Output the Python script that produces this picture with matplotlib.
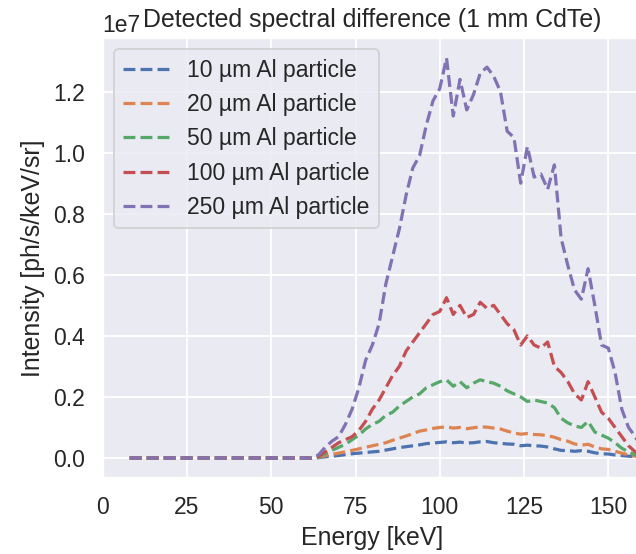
import numpy as np
import matplotlib
matplotlib.use("Agg")
import matplotlib.pyplot as plt
import seaborn as sns

# energy grid [keV] and spectra in units of 1e7 ph/s/keV/sr
energy = [8, 10, 12, 14, 16, 18, 20, 22, 24, 26, 28, 30, 32, 34, 36, 38, 40,
          42, 44, 46, 48, 50, 52, 54, 56, 58, 60, 62,
          64, 66, 68, 70, 72, 74, 76, 78, 80, 82, 84, 86, 88, 90, 92, 94, 96,
          98, 100, 102, 104, 106, 108, 110, 112, 114, 116, 118, 120, 122, 124,
          126, 128, 130, 132, 134, 136, 138, 140, 142, 144, 146, 148, 150, 152,
          154, 156, 158, 160]

flat = [0.0] * 28

al_10 = flat + [0.001, 0.004, 0.006, 0.008, 0.011, 0.014, 0.016, 0.018, 0.020,
                0.022, 0.026, 0.030, 0.034, 0.037, 0.040, 0.043, 0.047, 0.049,
                0.051, 0.053, 0.050, 0.052, 0.049, 0.050, 0.053, 0.054, 0.050,
                0.048, 0.046, 0.045, 0.040, 0.042, 0.040, 0.039, 0.036, 0.030,
                0.025, 0.024, 0.022, 0.024, 0.022, 0.017, 0.014, 0.013, 0.010,
                0.008, 0.006, 0.004, 0.002]

al_20 = flat + [0.002, 0.008, 0.012, 0.016, 0.020, 0.025, 0.030, 0.035, 0.040,
                0.045, 0.050, 0.058, 0.065, 0.072, 0.080, 0.088, 0.092, 0.097,
                0.100, 0.102, 0.098, 0.100, 0.096, 0.099, 0.102, 0.101, 0.098,
                0.095, 0.088, 0.082, 0.078, 0.080, 0.077, 0.076, 0.073, 0.068,
                0.060, 0.055, 0.046, 0.042, 0.045, 0.036, 0.030, 0.028, 0.022,
                0.016, 0.010, 0.006, 0.003]

al_50 = flat + [0.003, 0.015, 0.025, 0.035, 0.045, 0.060, 0.075, 0.095, 0.110,
                0.120, 0.140, 0.150, 0.170, 0.185, 0.200, 0.210, 0.230, 0.240,
                0.250, 0.256, 0.235, 0.250, 0.230, 0.245, 0.256, 0.250, 0.245,
                0.235, 0.220, 0.210, 0.200, 0.185, 0.190, 0.185, 0.180, 0.165,
                0.130, 0.115, 0.105, 0.100, 0.120, 0.085, 0.075, 0.065, 0.050,
                0.032, 0.020, 0.010, 0.005]

al_100 = flat + [0.005, 0.020, 0.035, 0.050, 0.060, 0.070, 0.090, 0.120, 0.160,
                 0.190, 0.230, 0.270, 0.300, 0.350, 0.380, 0.410, 0.440, 0.470,
                 0.480, 0.525, 0.470, 0.500, 0.460, 0.470, 0.510, 0.490, 0.500,
                 0.470, 0.440, 0.420, 0.370, 0.400, 0.370, 0.360, 0.380, 0.300,
                 0.280, 0.250, 0.210, 0.190, 0.250, 0.200, 0.150, 0.130, 0.100,
                 0.070, 0.040, 0.020, 0.010]

al_250 = flat + [0.010, 0.035, 0.055, 0.070, 0.110, 0.160, 0.230, 0.320, 0.370,
                 0.440, 0.570, 0.660, 0.750, 0.860, 0.950, 0.990, 1.090, 1.170,
                 1.210, 1.310, 1.120, 1.240, 1.140, 1.190, 1.260, 1.280, 1.250,
                 1.200, 1.070, 1.050, 0.900, 1.020, 0.920, 0.930, 0.880, 0.960,
                 0.720, 0.630, 0.550, 0.520, 0.620, 0.500, 0.370, 0.360, 0.280,
                 0.160, 0.100, 0.070, 0.030]

labels = ["10 µm Al particle", "20 µm Al particle", "50 µm Al particle",
          "100 µm Al particle", "250 µm Al particle"]
series = [al_10, al_20, al_50, al_100, al_250]

sns.set_theme(style="darkgrid", context="notebook", font_scale=1.1)
plt.rcParams['font.family'] = ['Liberation Sans', 'DejaVu Sans']

dpi = 136
fig = plt.figure(figsize=(636 / dpi, 554 / dpi), dpi=dpi)
ax = fig.add_axes([102.7 / 636, 76 / 554, 538.3 / 636, 440 / 554])

for vals, lab in zip(series, labels):
    ax.plot(energy, np.array(vals) * 1e7, '--', lw=1.7, label=lab)

ax.set_xlim(0, 159.7)
ax.set_xticks([0, 25, 50, 75, 100, 125, 150])
ax.set_title('Detected spectral difference (1 mm CdTe)')
ax.set_xlabel('Energy [keV]')
ax.set_ylabel('Intensity [ph/s/keV/sr]')
ax.legend(loc='upper left')

fig.savefig('out.png', dpi=dpi)
